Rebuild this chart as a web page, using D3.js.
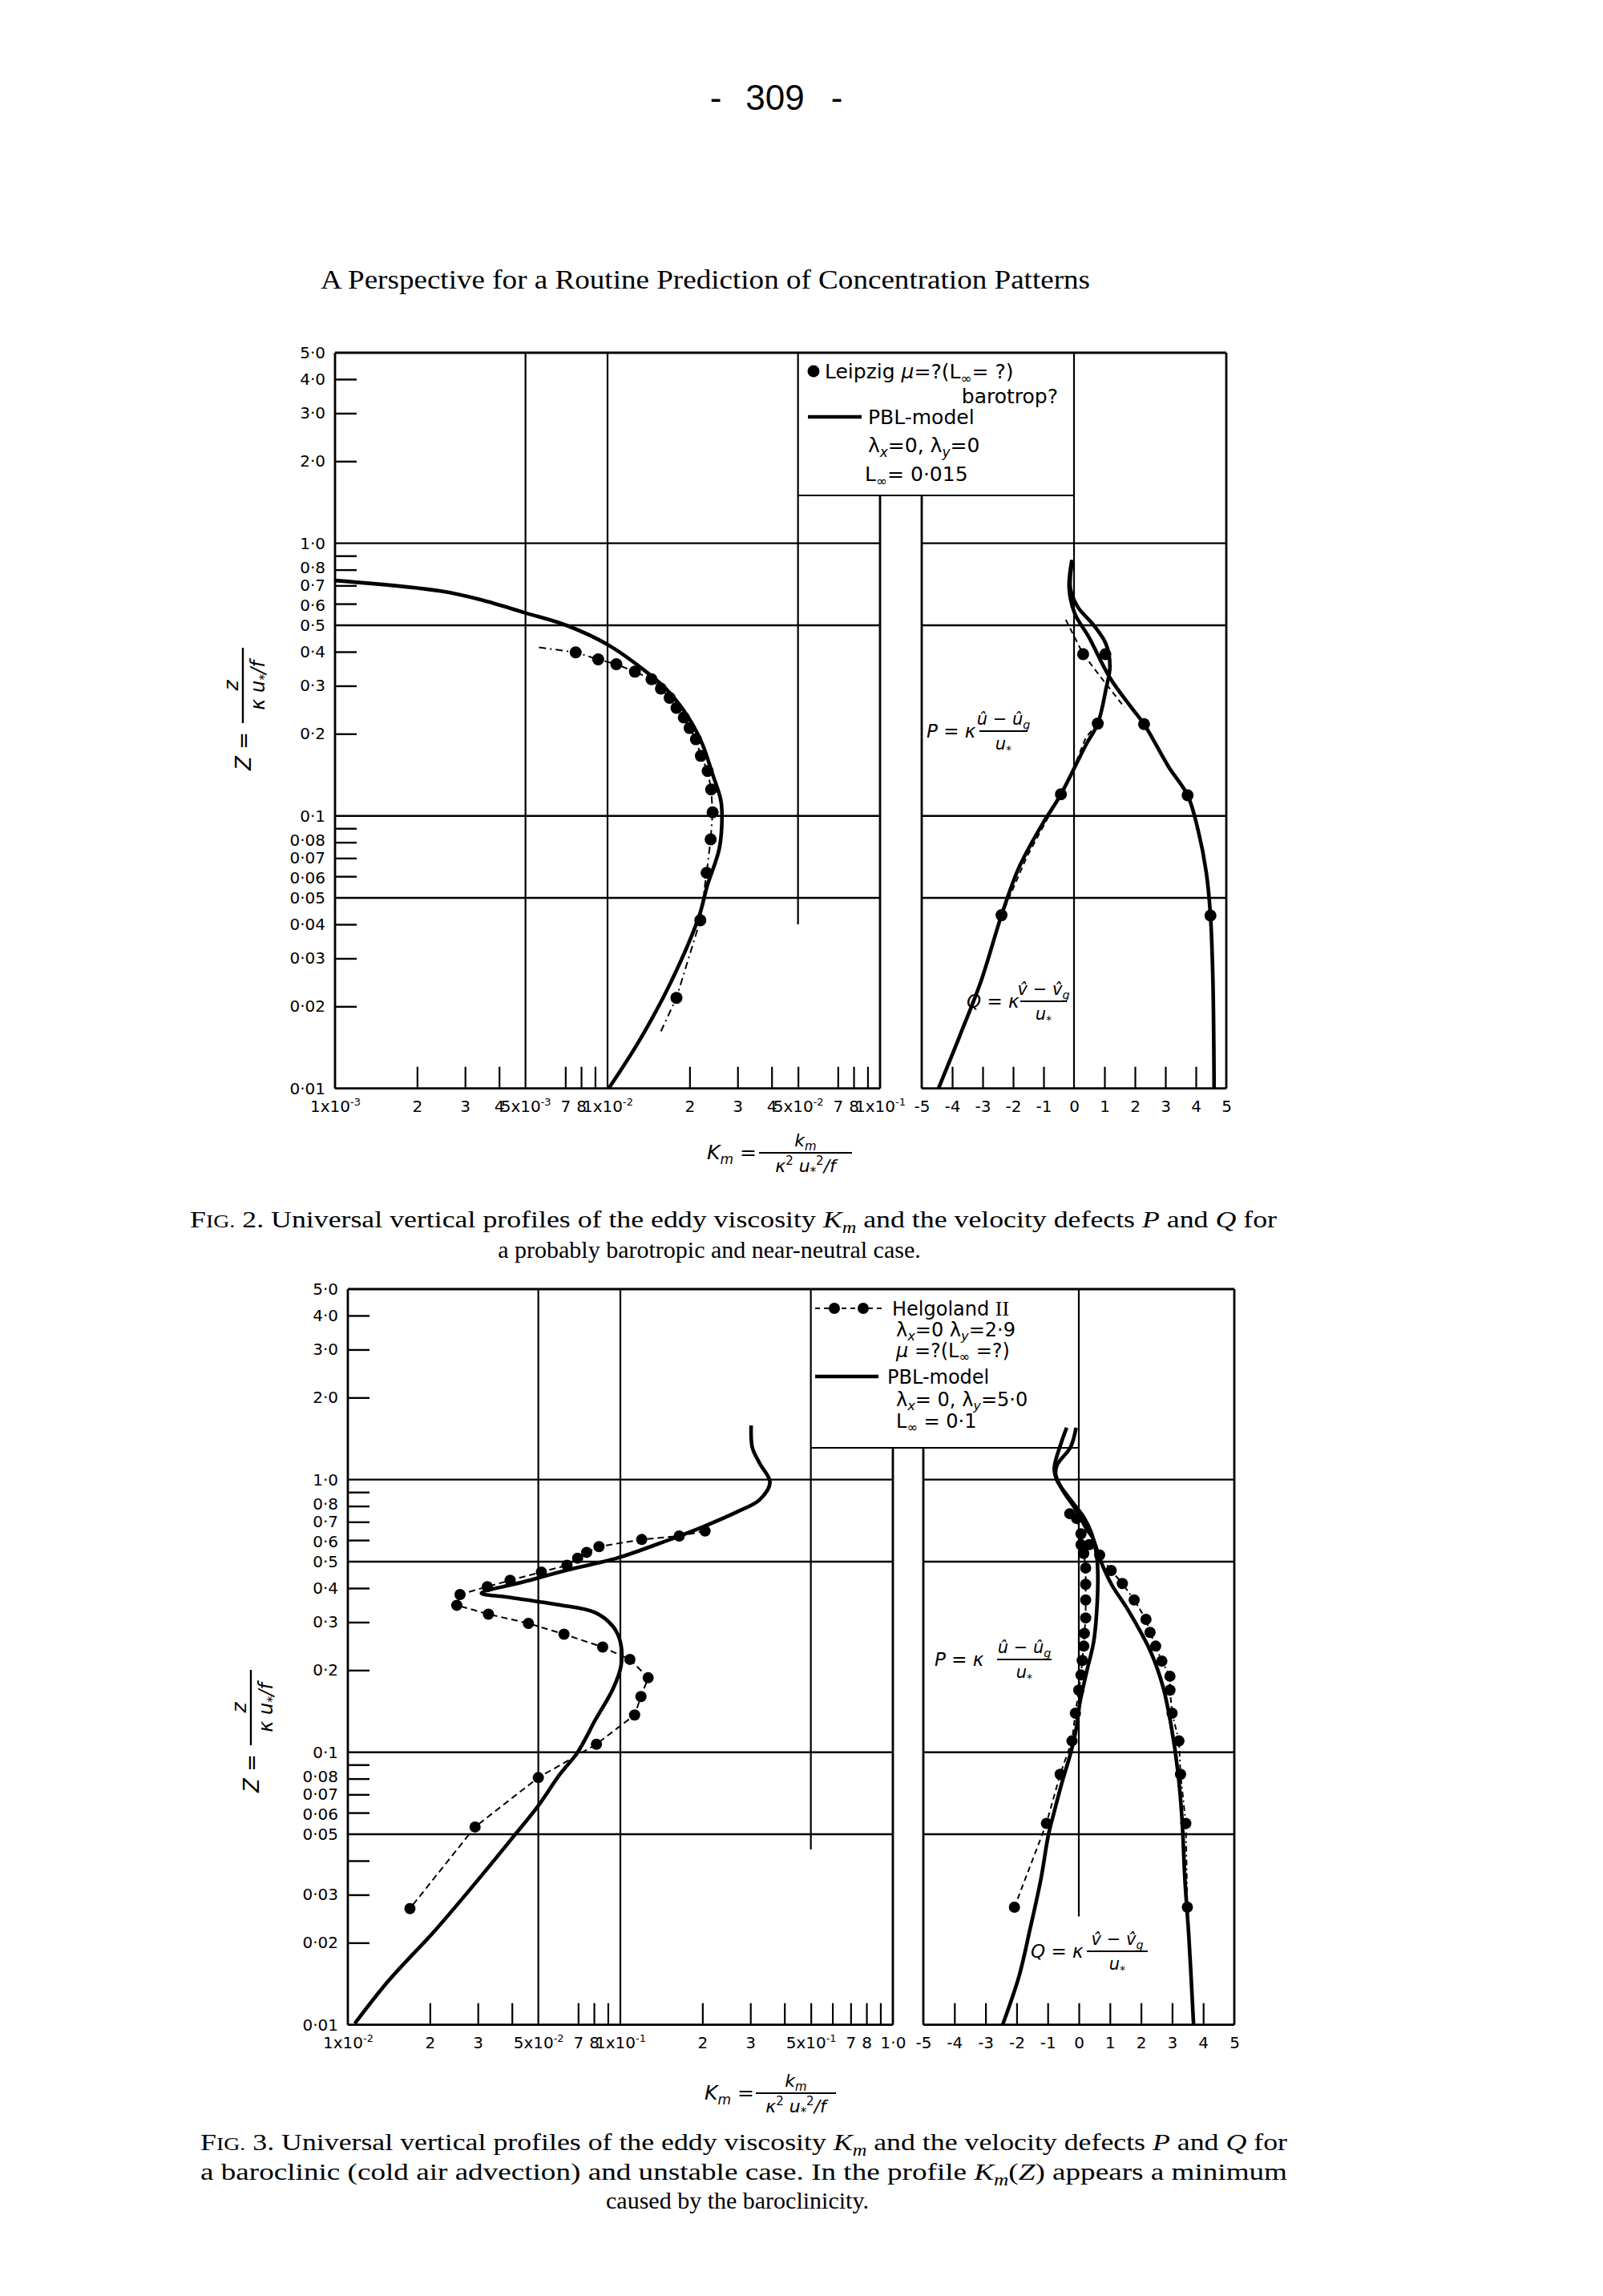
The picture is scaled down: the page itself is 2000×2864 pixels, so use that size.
<!DOCTYPE html>
<html>
<head>
<meta charset="utf-8">
<script src="https://cdn.jsdelivr.net/npm/d3@7"></script>
<style>
  body { margin: 0; background: #fff; }
  svg { display: block; }
</style>
</head>
<body>
<div id="page"></div>
<script>
// ---------- values ----------

// Z axis (log), shared by both figures
const zTicks = [4, 3, 2, 0.9, 0.8, 0.7, 0.6, 0.4, 0.3, 0.2, 0.09, 0.08, 0.07, 0.06, 0.04, 0.03, 0.02];
const zGrid = [1, 0.5, 0.1, 0.05];
const zLabels2 = [[5,"5·0"],[4,"4·0"],[3,"3·0"],[2,"2·0"],[1,"1·0"],[0.8,"0·8"],[0.7,"0·7"],[0.6,"0·6"],
  [0.5,"0·5"],[0.4,"0·4"],[0.3,"0·3"],[0.2,"0·2"],[0.1,"0·1"],[0.08,"0·08"],[0.07,"0·07"],[0.06,"0·06"],
  [0.05,"0·05"],[0.04,"0·04"],[0.03,"0·03"],[0.02,"0·02"],[0.01,"0·01"]];
const zLabels3 = zLabels2.filter(d => d[0] !== 0.04);

// P, Q axis (linear)
const pqLabels = [[-5,"-5"],[-4,"-4"],[-3,"-3"],[-2,"-2"],[-1,"-1"],[0,"0"],[1,"1"],[2,"2"],[3,"3"],[4,"4"],[5,"5"]];
const pqTicks2 = [-4, -3, -2, -1, 1, 2, 3, 4];
const pqTicks3 = [-4, -3, -2, -1, 0, 1, 2, 3, 4];

// Fig. 2 Km axis
const kmTicks2 = [2e-3, 3e-3, 4e-3, 7e-3, 8e-3, 9e-3, 2e-2, 3e-2, 4e-2, 5e-2, 7e-2, 8e-2, 9e-2];
const kmLabels2 = [[1e-3,"1x10","-3"],[2e-3,"2"],[3e-3,"3"],[4e-3,"4"],[5e-3,"5x10","-3"],[7e-3,"7"],[8e-3,"8"],
  [1e-2,"1x10","-2"],[2e-2,"2"],[3e-2,"3"],[4e-2,"4"],[5e-2,"5x10","-2"],[7e-2,"7"],[8e-2,"8"],[1e-1,"1x10","-1"]];

// Fig. 3 Km axis
const kmTicks3 = [2e-2, 3e-2, 4e-2, 7e-2, 8e-2, 9e-2, 0.2, 0.3, 0.4, 0.5, 0.6, 0.7, 0.8, 0.9];
const kmLabels3 = [[1e-2,"1x10","-2"],[2e-2,"2"],[3e-2,"3"],[5e-2,"5x10","-2"],[7e-2,"7"],[8e-2,"8"],
  [1e-1,"1x10","-1"],[0.2,"2"],[0.3,"3"],[0.5,"5x10","-1"],[0.7,"7"],[0.8,"8"],[1,"1·0"]];

// Fig. 2, Km(Z): PBL-model [Km, Z]
const f2KmModel = [[1.0e-3,0.73],[2.44e-3,0.668],[3.44e-3,0.62],[5.0e-3,0.555],[7.06e-3,0.50],[1.0e-2,0.425],
  [1.385e-2,0.338],[1.65e-2,0.29],[1.95e-2,0.235],[2.22e-2,0.185],[2.43e-2,0.142],[2.6e-2,0.115],[2.63e-2,0.1],
  [2.57e-2,0.0757],[2.32e-2,0.0553],[2.17e-2,0.043],[1.73e-2,0.0252],[1.32e-2,0.0152],[1.01e-2,0.01]];
// Fig. 2, Km(Z): Leipzig observations
const f2KmDots = [[7.64e-3,0.398],[9.24e-3,0.375],[1.077e-2,0.360],[1.26e-2,0.338],[1.45e-2,0.317],[1.57e-2,0.293],
  [1.69e-2,0.271],[1.79e-2,0.249],[1.905e-2,0.2296],[2.0e-2,0.210],[2.11e-2,0.191],[2.2e-2,0.166],[2.33e-2,0.146],
  [2.40e-2,0.125],[2.43e-2,0.103],[2.39e-2,0.082],[2.31e-2,0.0618],[2.19e-2,0.0414],[1.79e-2,0.0215]];
const f2KmTrailEnds = [[5.6e-3,0.415],[1.57e-2,0.0162]];

// Fig. 2, P and Q: PBL-model [value, Z]
const f2CurveRight = [[-0.07,0.868],[-0.16,0.685],[0.035,0.549],[0.475,0.455],[1.18,0.321],[1.88,0.25],[2.3,0.217],
  [3.11,0.151],[3.73,0.119],[4.08,0.088],[4.34,0.0623],[4.48,0.0431],[4.56,0.025],[4.6,0.01]];
const f2CurveLeft = [[-0.05,0.868],[-0.12,0.685],[0.12,0.585],[0.65,0.5],[1.05,0.427],[1.18,0.354],[1.05,0.292],
  [0.78,0.218],[0.39,0.182],[-0.43,0.12],[-1.02,0.094],[-1.81,0.0645],[-2.38,0.0432],[-3.04,0.025],[-3.75,0.0156],[-4.45,0.01]];
// Fig. 2, P and Q: Leipzig observations
const f2DotsRight = [[0.30,0.392],[2.30,0.217],[3.73,0.119],[4.48,0.0431]];
const f2DashRight = [[-0.27,0.524],[0.30,0.392],[0.99,0.311],[1.66,0.25]];
const f2DotsLeft = [[1.03,0.392],[0.78,0.218],[-0.43,0.12],[-2.38,0.0432]];
const f2DashLeft = [[0.78,0.218],[0.39,0.194],[-0.05,0.146],[-0.43,0.12],[-0.76,0.103],[-1.55,0.0707],[-2.38,0.0432],[-2.82,0.030]];

// Fig. 3, Km(Z): PBL-model
const f3KmModel = [[0.302,1.58],[0.305,1.31],[0.324,1.15],[0.354,0.977],[0.324,0.843],[0.270,0.764],[0.200,0.670],
  [0.148,0.597],[0.0970,0.515],[0.0637,0.466],[0.0443,0.422],[0.0309,0.383],[0.0382,0.371],[0.060,0.347],[0.081,0.325],
  [0.094,0.289],[0.100,0.254],[0.1006,0.208],[0.094,0.171],[0.081,0.1315],[0.0697,0.100],[0.060,0.083],[0.050,0.0637],
  [0.0405,0.049],[0.0309,0.0352],[0.0209,0.0222],[0.0141,0.0145],[0.0106,0.0101]];
// Fig. 3, Km(Z): Helgoland II observations
const f3KmDots = [[0.2046,0.648],[0.1644,0.621],[0.1198,0.603],[0.0835,0.568],[0.0752,0.541],[0.0697,0.515],[0.0637,0.485],
  [0.0513,0.458],[0.0394,0.427],[0.0325,0.405],[0.0258,0.379],[0.0251,0.346],[0.0328,0.321],[0.046,0.297],[0.0621,0.271],
  [0.0861,0.243],[0.1084,0.219],[0.1265,0.1875],[0.119,0.160],[0.1128,0.137],[0.0817,0.107],[0.050,0.0807],[0.0293,0.0532],[0.0169,0.0267]];

// Fig. 3, P and Q: PBL-model
const f3CurveRight = [[-0.09,1.55],[-0.26,1.32],[-0.70,1.13],[-0.74,1.04],[-0.52,0.915],[-0.09,0.775],[0.26,0.656],
  [0.44,0.614],[0.70,0.504],[1.05,0.413],[1.6,0.33],[2.3,0.235],[2.7,0.175],[2.97,0.125],[3.19,0.084],[3.32,0.0565],
  [3.41,0.0344],[3.54,0.0209],[3.69,0.01]];
const f3CurveLeft = [[-0.39,1.55],[-0.57,1.36],[-0.79,1.10],[-0.70,0.993],[-0.26,0.842],[0.17,0.725],[0.42,0.631],
  [0.58,0.52],[0.61,0.456],[0.59,0.35],[0.48,0.255],[0.26,0.199],[0.04,0.153],[-0.09,0.121],[-0.26,0.0995],[-0.52,0.079],
  [-0.79,0.0605],[-0.98,0.0496],[-1.22,0.0342],[-1.57,0.0224],[-1.92,0.0151],[-2.45,0.01]];
// Fig. 3, P and Q: Helgoland II observations
const f3DotsLeft = [[-0.29,0.750],[-0.07,0.721],[0.07,0.633],[0.07,0.577],[0.16,0.536],[0.22,0.474],[0.22,0.413],
  [0.22,0.362],[0.22,0.311],[0.18,0.273],[0.16,0.245],[0.11,0.217],[0.07,0.192],[0.0,0.169],[-0.11,0.139],[-0.22,0.110],
  [-0.60,0.083],[-1.04,0.0548],[-2.07,0.0270]];
const f3DotsRight = [[0.33,0.577],[0.67,0.529],[1.04,0.464],[1.40,0.416],[1.78,0.362],[2.16,0.307],[2.29,0.275],
  [2.47,0.245],[2.67,0.216],[2.93,0.190],[2.93,0.169],[3.0,0.139],[3.22,0.110],[3.27,0.083],[3.44,0.0548],[3.49,0.0270]];

// ---------- page ----------
const svg = d3.select("#page").append("svg")
  .attr("width", 2000).attr("height", 2864)
  .attr("font-family", "'DejaVu Sans', sans-serif");
svg.append("rect").attr("width", 2000).attr("height", 2864).attr("fill", "#fff");

const SERIF = "'Liberation Serif', 'DejaVu Serif', serif";
// the closely packed Z labels are eased apart a little
const labelNudge = new Map([[0.8, -3], [0.6, 2], [0.08, -3], [0.06, 2]]);

// text with sub/superscripts: parts are strings or [string, "sub"|"sup"|"it"|"sc" ...]
function rich(g, x, y, parts, size, anchor) {
  const t = g.append("text").attr("x", x).attr("y", y)
    .attr("font-size", size).attr("text-anchor", anchor || "start");
  let off = 0;
  parts.forEach(p => {
    const s = Array.isArray(p) ? p[0] : p;
    const k = Array.isArray(p) ? p[1] : "";
    const target = k.includes("sub") ? size * 0.22 : k.includes("sup") ? -size * 0.4 : 0;
    const ts = t.append("tspan").attr("dy", target - off).text(s);
    off = target;
    if (k.includes("sub") || k.includes("sup")) ts.attr("font-size", size * 0.68);
    if (k.includes("sc")) ts.attr("font-size", size * 0.78);
    if (k.includes("it")) ts.attr("font-style", "italic");
  });
  return t;
}

function seg(g, x1, y1, x2, y2, w) {
  g.append("line").attr("x1", x1).attr("y1", y1).attr("x2", x2).attr("y2", y2)
    .attr("stroke", "#000").attr("stroke-width", w || 2.4);
}

function fraction(g, cx, y, num, den, half, size) {
  seg(g, cx - half, y, cx + half, y, 2);
  rich(g, cx, y - 8, num, size, "middle");
  rich(g, cx, y + size + 2, den, size, "middle");
}

function drawFigure(f) {
  const g = svg.append("g");
  const y = d3.scaleLog().domain([0.01, 5]).range([f.bottom, f.top]);
  const xk = d3.scaleLog().domain(f.kmDomain).range([f.left, f.leftEnd]);
  const xp = d3.scaleLinear().domain([-5, 5]).range([f.rightStart, f.rightEnd]);
  const yTop = y(5), yBot = y(0.01);

  // frame and grid
  seg(g, f.left, yTop, f.rightEnd, yTop, 2.8);
  seg(g, f.left, yTop, f.left, yBot, 2.8);
  seg(g, f.rightEnd, yTop, f.rightEnd, yBot, 2.8);
  seg(g, f.left, yBot, f.leftEnd, yBot, 2.8);
  seg(g, f.rightStart, yBot, f.rightEnd, yBot, 2.8);
  seg(g, f.leftEnd, f.legendBottom, f.leftEnd, yBot, 2.8);
  seg(g, f.rightStart, f.legendBottom, f.rightStart, yBot, 2.8);
  zGrid.forEach(z => {
    seg(g, f.left, y(z), f.leftEnd, y(z), 2.4);
    seg(g, f.rightStart, y(z), f.rightEnd, y(z), 2.4);
  });
  f.kmGrid.forEach(k => seg(g, xk(k), yTop, xk(k), yBot, 2.2));
  seg(g, xk(f.kmPartial), yTop, xk(f.kmPartial), y(f.partialEndZ), 2.2);
  seg(g, xp(0), yTop, xp(0), y(f.zeroEndZ), 2.2);
  seg(g, xk(f.kmPartial), f.legendBottom, xp(0), f.legendBottom, 2.2);

  // Z ticks and labels
  g.append("g").attr("transform", `translate(${f.left},0)`)
    .call(d3.axisRight(y).tickValues(zTicks).tickSize(27).tickFormat(""))
    .call(a => a.select(".domain").remove())
    .call(a => a.selectAll("line").attr("stroke-width", 2.4));
  const zMap = new Map(f.zLabels);
  g.append("g").attr("transform", `translate(${f.left},0)`)
    .call(d3.axisLeft(y).tickValues(f.zLabels.map(d => d[0])).tickSize(0).tickPadding(12).tickFormat(d => zMap.get(d)))
    .call(a => a.select(".domain").remove())
    .call(a => a.selectAll(".tick text").attr("y", d => labelNudge.get(d) || 0))
    .attr("font-size", 20).attr("font-family", "'DejaVu Sans', sans-serif");

  // Km ticks and labels
  g.append("g").attr("transform", `translate(0,${yBot})`)
    .call(d3.axisTop(xk).tickValues(f.kmTicks).tickSize(27).tickFormat(""))
    .call(a => a.select(".domain").remove())
    .call(a => a.selectAll("line").attr("stroke-width", 2.2));
  const kl = g.append("g").attr("transform", `translate(0,${yBot})`)
    .call(d3.axisBottom(xk).tickValues(f.kmLabels.map(d => d[0])).tickSize(0).tickPadding(15).tickFormat(""))
    .call(a => a.select(".domain").remove())
    .attr("font-size", 20).attr("font-family", "'DejaVu Sans', sans-serif");
  kl.selectAll(".tick text").each(function(d, i) {
    const lab = f.kmLabels[i];
    const t = d3.select(this);
    t.append("tspan").text(lab[1]);
    if (lab[2]) t.append("tspan").attr("font-size", 13).attr("dy", -8).text(lab[2]);
  });

  // P, Q ticks and labels
  g.append("g").attr("transform", `translate(0,${yBot})`)
    .call(d3.axisTop(xp).tickValues(f.pqTicks).tickSize(27).tickFormat(""))
    .call(a => a.select(".domain").remove())
    .call(a => a.selectAll("line").attr("stroke-width", 2.2));
  const pqMap = new Map(pqLabels);
  g.append("g").attr("transform", `translate(0,${yBot})`)
    .call(d3.axisBottom(xp).tickValues(pqLabels.map(d => d[0])).tickSize(0).tickPadding(15).tickFormat(d => pqMap.get(d)))
    .call(a => a.select(".domain").remove())
    .attr("font-size", 20).attr("font-family", "'DejaVu Sans', sans-serif");

  // marks
  const smooth = d3.curveCatmullRom.alpha(0.5);
  const lineK = d3.line().x(d => xk(d[0])).y(d => y(d[1])).curve(smooth);
  const lineP = d3.line().x(d => xp(d[0])).y(d => y(d[1])).curve(smooth);
  const lineKs = d3.line().x(d => xk(d[0])).y(d => y(d[1]));
  const linePs = d3.line().x(d => xp(d[0])).y(d => y(d[1]));

  f.kmDashes.forEach(s => g.append("path").attr("d", lineKs(s.pts)).attr("fill", "none")
    .attr("stroke", "#000").attr("stroke-width", 2).attr("stroke-dasharray", s.dash));
  f.pqDashes.forEach(s => g.append("path").attr("d", linePs(s.pts)).attr("fill", "none")
    .attr("stroke", "#000").attr("stroke-width", 2).attr("stroke-dasharray", s.dash));

  g.append("path").attr("d", lineK(f.kmModel)).attr("fill", "none")
    .attr("stroke", "#000").attr("stroke-width", 4.6).attr("stroke-linejoin", "round");
  f.pqModels.forEach(c => g.append("path").attr("d", lineP(c)).attr("fill", "none")
    .attr("stroke", "#000").attr("stroke-width", 4.6).attr("stroke-linejoin", "round"));

  g.selectAll(null).data(f.kmDots).join("circle")
    .attr("cx", d => xk(d[0])).attr("cy", d => y(d[1])).attr("r", f.dotR).attr("fill", "#000");
  g.selectAll(null).data(f.pqDots).join("circle")
    .attr("cx", d => xp(d[0])).attr("cy", d => y(d[1])).attr("r", f.dotR).attr("fill", "#000");

  // legend text
  const lg = g.append("g").attr("font-size", f.legendSize);
  f.legend(lg);

  // P and Q labels
  const pg = g.append("g").attr("font-style", "italic");
  rich(pg, f.pLabel[0], f.pLabel[1] + 8, [["P = κ", "it"]], 23);
  fraction(pg, f.pLabel[2], f.pLabel[1], [["û − û", "it"], ["g", "sub it"]], [["u", "it"], ["*", "sub"]], f.pLabel[3], 21);
  rich(pg, f.qLabel[0], f.qLabel[1] + 8, [["Q = κ", "it"]], 23);
  fraction(pg, f.qLabel[2], f.qLabel[1], [["v\u0302 − v\u0302", "it"], ["g", "sub it"]], [["u", "it"], ["*", "sub"]], f.qLabel[3], 21);

  // Z axis title, rotated
  const yt = g.append("g").attr("transform", `translate(${f.zTitle[0]},${f.zTitle[1]}) rotate(-90)`);
  rich(yt, -57, 10, [["Z =", "it"]], 26, "middle");
  seg(yt, -22, 0, 72, 0, 2.4);
  rich(yt, 25, -6, [["z", "it"]], 25, "middle");
  rich(yt, 25, 27, [["κ u", "it"], ["*", "sub"], ["/f", "it"]], 24, "middle");

  // Km definition below the axis
  const kg = g.append("g");
  rich(kg, f.kmTitle[0], f.kmTitle[1] + 8, [["K", "it"], ["m", "sub it"], " ="], 25);
  fraction(kg, f.kmTitle[2], f.kmTitle[1], [["k", "it"], ["m", "sub it"]],
    [["κ", "it"], ["2", "sup"], [" u", "it"], ["*", "sub"], ["2", "sup"], ["/f", "it"]], f.kmTitle[3], 22);
}

// ---------- figure 2 ----------
drawFigure({
  top: 440, bottom: 1357.7, left: 418, leftEnd: 1098, rightStart: 1150, rightEnd: 1530,
  kmDomain: [1e-3, 1e-1], kmGrid: [5e-3, 1e-2], kmPartial: 5e-2, partialEndZ: 0.04, zeroEndZ: 0.01,
  legendBottom: 618, zLabels: zLabels2, kmTicks: kmTicks2, kmLabels: kmLabels2, pqTicks: pqTicks2,
  kmModel: f2KmModel, kmDots: f2KmDots,
  kmDashes: [{ pts: [f2KmTrailEnds[0], ...f2KmDots, f2KmTrailEnds[1]], dash: "9,5,2,5" }],
  pqModels: [f2CurveRight, f2CurveLeft], pqDots: [...f2DotsRight, ...f2DotsLeft],
  pqDashes: [{ pts: f2DashRight, dash: "7,5" }, { pts: f2DashLeft, dash: "7,5" }],
  dotR: 7.5, legendSize: 25,
  pLabel: [1156, 912, 1252, 30], qLabel: [1206, 1249, 1302, 29],
  zTitle: [303, 880], kmTitle: [882, 1438, 1005, 58],
  legend: lg => {
    lg.append("circle").attr("cx", 1015).attr("cy", 463).attr("r", 7.5).attr("fill", "#000");
    rich(lg, 1029, 472, ["Leipzig ", ["μ", "it"], "=?(L", ["∞", "sub"], "= ?)"], 25);
    rich(lg, 1320, 503, ["barotrop?"], 25, "end");
    seg(lg, 1008, 520, 1075, 520, 4.6);
    rich(lg, 1083, 529, ["PBL-model"], 25);
    rich(lg, 1083, 564, ["λ", ["x", "sub it"], "=0, λ", ["y", "sub it"], "=0"], 25);
    rich(lg, 1079, 600, ["L", ["∞", "sub"], "= 0·015"], 25);
  }
});

// ---------- figure 3 ----------
drawFigure({
  top: 1608, bottom: 2525.7, left: 434, leftEnd: 1114, rightStart: 1152, rightEnd: 1540,
  kmDomain: [1e-2, 1], kmGrid: [5e-2, 1e-1], kmPartial: 0.5, partialEndZ: 0.044, zeroEndZ: 0.025,
  legendBottom: 1806, zLabels: zLabels3, kmTicks: kmTicks3, kmLabels: kmLabels3, pqTicks: pqTicks3,
  kmModel: f3KmModel, kmDots: f3KmDots,
  kmDashes: [{ pts: f3KmDots, dash: "8,5" }],
  pqModels: [f3CurveRight, f3CurveLeft], pqDots: [...f3DotsLeft, ...f3DotsRight],
  pqDashes: [{ pts: f3DotsLeft, dash: "7,5" }, { pts: f3DotsRight, dash: "7,4,2,4" }],
  dotR: 7, legendSize: 24,
  pLabel: [1166, 2070, 1278, 34], qLabel: [1286, 2434, 1394, 38],
  zTitle: [313, 2155], kmTitle: [879, 2611, 993, 50],
  legend: lg => {
    lg.append("line").attr("x1", 1017).attr("y1", 1632).attr("x2", 1105).attr("y2", 1632)
      .attr("stroke", "#000").attr("stroke-width", 2).attr("stroke-dasharray", "6,5");
    lg.append("circle").attr("cx", 1041).attr("cy", 1632).attr("r", 7).attr("fill", "#000");
    lg.append("circle").attr("cx", 1077).attr("cy", 1632).attr("r", 7).attr("fill", "#000");
    const t = rich(lg, 1113, 1641, ["Helgoland "], 24);
    t.append("tspan").attr("font-family", SERIF).attr("font-size", 26).text("II");
    rich(lg, 1118, 1667, ["λ", ["x", "sub it"], "=0 λ", ["y", "sub it"], "=2·9"], 24);
    rich(lg, 1118, 1693, [["μ", "it"], " =?(L", ["∞", "sub"], " =?)"], 24);
    seg(lg, 1017, 1717, 1096, 1717, 4.6);
    rich(lg, 1107, 1726, ["PBL-model"], 24);
    rich(lg, 1118, 1754, ["λ", ["x", "sub it"], "= 0, λ", ["y", "sub it"], "=5·0"], 24);
    rich(lg, 1118, 1781, ["L", ["∞", "sub"], " = 0·1"], 24);
  }
});

// ---------- page text ----------
const head = svg.append("g").attr("font-family", "'Liberation Sans', sans-serif").attr("font-size", 44)
  .attr("text-anchor", "middle");
head.append("text").attr("x", 893).attr("y", 137).text("-");
head.append("text").attr("x", 967).attr("y", 137).text("309");
head.append("text").attr("x", 1044).attr("y", 137).text("-");

svg.append("text").attr("x", 400).attr("y", 360)
  .attr("font-family", SERIF).attr("font-size", 33)
  .attr("textLength", 960).attr("lengthAdjust", "spacingAndGlyphs")
  .text("A Perspective for a Routine Prediction of Concentration Patterns");

const cap = svg.append("g").attr("font-family", SERIF);
rich(cap, 237, 1531, ["F", ["IG.", "sc"], " 2. Universal vertical profiles of the eddy viscosity ", ["K", "it"], ["m", "sub it"],
  " and the velocity defects ", ["P", "it"], " and ", ["Q", "it"], " for"], 30)
  .attr("textLength", 1356).attr("lengthAdjust", "spacingAndGlyphs");
rich(cap, 885, 1569, ["a probably barotropic and near-neutral case."], 30, "middle");

rich(cap, 250, 2682, ["F", ["IG.", "sc"], " 3. Universal vertical profiles of the eddy viscosity ", ["K", "it"], ["m", "sub it"],
  " and the velocity defects ", ["P", "it"], " and ", ["Q", "it"], " for"], 30)
  .attr("textLength", 1356).attr("lengthAdjust", "spacingAndGlyphs");
rich(cap, 250, 2719, ["a baroclinic (cold air advection) and unstable case. In the profile ", ["K", "it"], ["m", "sub it"],
  "(", ["Z", "it"], ") appears a minimum"], 30)
  .attr("textLength", 1356).attr("lengthAdjust", "spacingAndGlyphs");
rich(cap, 920, 2755, ["caused by the baroclinicity."], 30, "middle");
</script>
</body>
</html>
